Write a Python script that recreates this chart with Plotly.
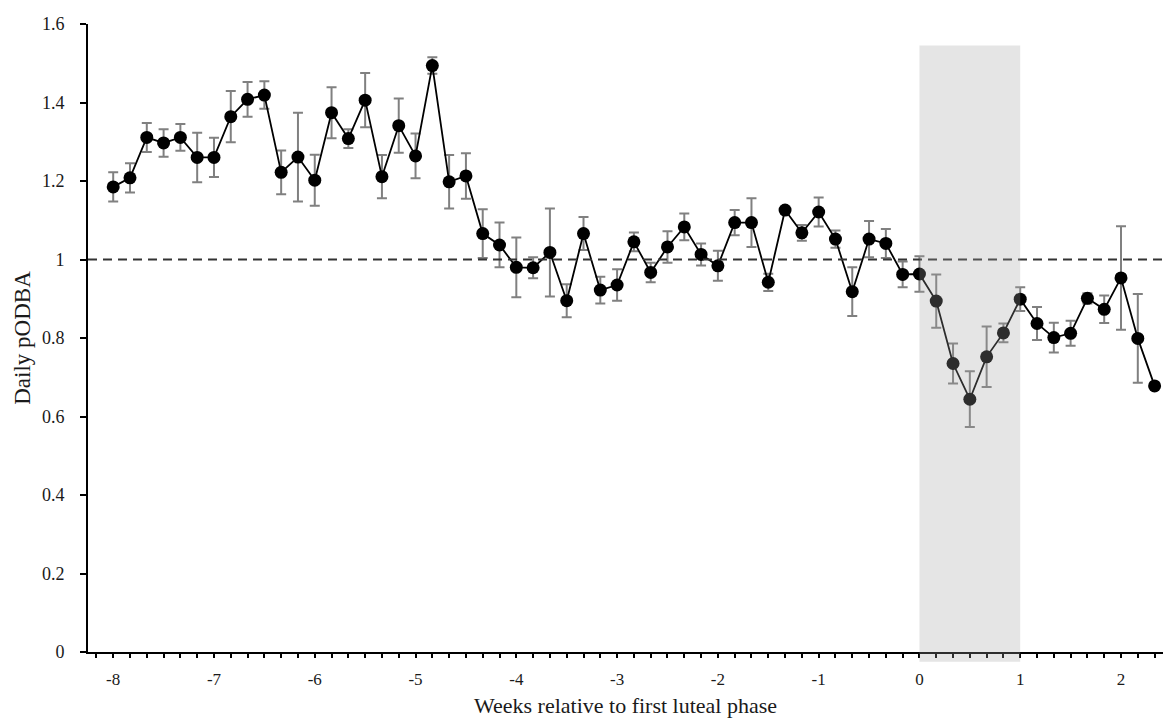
import plotly.graph_objects as go

# Daily pODBA, six readings per week, from week -8 to week 2 + 2/6
weeks_start = -8
steps_per_week = 6
podba = [
    1.185, 1.208, 1.311, 1.297, 1.311, 1.260, 1.260, 1.364, 1.408, 1.419,
    1.222, 1.261, 1.202, 1.374, 1.308, 1.406, 1.211, 1.341, 1.264, 1.494,
    1.198, 1.213, 1.066, 1.037, 0.980, 0.979, 1.018, 0.895, 1.066, 0.922,
    0.935, 1.045, 0.967, 1.032, 1.083, 1.013, 0.984, 1.094, 1.094, 0.942,
    1.126, 1.068, 1.121, 1.052, 0.918, 1.052, 1.041, 0.962, 0.963, 0.894,
    0.735, 0.644, 0.752, 0.813, 0.899, 0.837, 0.801, 0.812, 0.901, 0.873,
    0.953, 0.799, 0.678,
]
podba_err = [
    0.037, 0.037, 0.037, 0.035, 0.034, 0.063, 0.050, 0.065, 0.044, 0.035,
    0.056, 0.113, 0.065, 0.065, 0.024, 0.069, 0.055, 0.069, 0.057, 0.021,
    0.068, 0.058, 0.062, 0.057, 0.076, 0.027, 0.112, 0.042, 0.042, 0.034,
    0.040, 0.024, 0.025, 0.040, 0.034, 0.028, 0.038, 0.032, 0.062, 0.022,
    0.008, 0.020, 0.037, 0.022, 0.062, 0.046, 0.037, 0.033, 0.045, 0.068,
    0.051, 0.071, 0.077, 0.024, 0.030, 0.042, 0.038, 0.032, 0.013, 0.035,
    0.132, 0.113, 0.0,
]
weeks = [weeks_start + i / steps_per_week for i in range(len(podba))]

baseline = 1.0
luteal_start, luteal_end = 0, 1
week_ticks = list(range(-8, 3))
week_labels = [str(w) for w in week_ticks]  # plain hyphen for negatives
pODBA_ticks = [0, 0.2, 0.4, 0.6, 0.8, 1, 1.2, 1.4, 1.6]
pODBA_labels = [f"{v:g}" for v in pODBA_ticks]

serif = "Liberation Serif"
ink = "#1a1a1a"

fig = go.Figure()
fig.add_trace(go.Scatter(
    x=weeks, y=podba,
    mode="lines+markers",
    line=dict(color="black", width=1.8),
    marker=dict(color="black", size=13),
    error_y=dict(type="data", array=podba_err, visible=True,
                 color="#808080", thickness=2, width=5),
    cliponaxis=False,
    showlegend=False,
))

# reference level
fig.add_shape(type="line", xref="paper", yref="y", x0=0, x1=1,
              y0=baseline, y1=baseline,
              line=dict(color="#333333", width=2, dash="9px,6px"))

# first luteal phase window
fig.add_shape(type="rect", xref="x", yref="paper",
              x0=luteal_start, x1=luteal_end, y0=-0.0156, y1=1.545 / 1.6,
              fillcolor="rgba(160,160,160,0.28)", line=dict(width=0),
              layer="above")

fig.update_layout(
    width=1170, height=718,
    margin=dict(l=88, r=7, t=24, b=66),
    plot_bgcolor="white", paper_bgcolor="white",
    font=dict(family=serif, color=ink, size=18),
    xaxis=dict(
        range=[-8.25, 2.4167],
        automargin=False,
        tickmode="array", tickvals=week_ticks, ticktext=week_labels,
        ticks="outside", ticklen=4, tickwidth=2, tickcolor="black",
        minor=dict(dtick=1 / steps_per_week, tick0=weeks_start,
                   ticks="outside", ticklen=4, tickwidth=2, tickcolor="black"),
        showline=True, linecolor="black", linewidth=2,
        showgrid=False, zeroline=False,
        ticklabelstandoff=7,
        tickfont=dict(family=serif, size=17, color=ink),
        title=dict(text="Weeks relative to first luteal phase",
                   font=dict(family=serif, size=22, color=ink),
                   standoff=13),
    ),
    yaxis=dict(
        range=[0, 1.6],
        automargin=False,
        tickmode="array", tickvals=pODBA_ticks, ticktext=pODBA_labels,
        ticks="outside", ticklen=6, tickwidth=2, tickcolor="black",
        showline=True, linecolor="black", linewidth=2,
        showgrid=False, zeroline=False,
        ticklabelstandoff=12,
        tickfont=dict(family=serif, size=18, color=ink),
        title=dict(text="Daily pODBA",
                   font=dict(family=serif, size=23, color=ink),
                   standoff=5),
    ),
)

fig.write_html("out.html")
